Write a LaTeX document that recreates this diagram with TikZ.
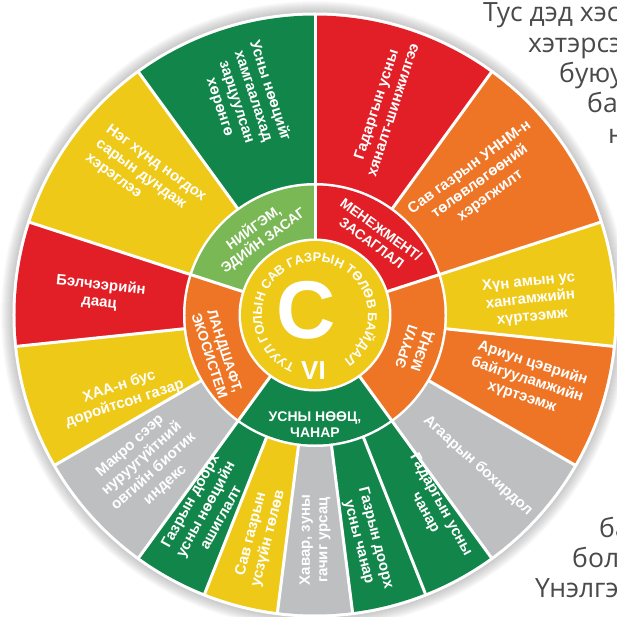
\documentclass[tikz,border=0pt]{standalone}
\usepackage{fontspec}
\setmainfont{Liberation Sans}
\newfontfamily\parafont{Open Sans}
\usetikzlibrary{decorations.text}
\definecolor{dkgreen}{HTML}{12864A}
\definecolor{wred}{HTML}{E21F26}
\definecolor{worange}{HTML}{EE7526}
\definecolor{wyellow}{HTML}{EFC918}
\definecolor{wgray}{HTML}{BDBFC1}
\definecolor{ltgreen}{HTML}{79B855}
\definecolor{paragray}{HTML}{4A4A4A}
\begin{document}
\begin{tikzpicture}[x=1pt,y=1pt,
  seglabel/.style={text=white, font=\bfseries\fontsize{15}{17.5}\selectfont, align=center, inner sep=0pt},
  ringlabel/.style={text=white, font=\bfseries\fontsize{14}{16}\selectfont, align=center, inner sep=0pt},
  paraline/.style={anchor=base west, text=paragray, font=\parafont\fontsize{26.5}{28}\selectfont, inner sep=0pt},
  sep/.style={white, line width=3pt}]
\useasboundingbox (-315,-301) rectangle (302,315);
\clip (-315,-301) rectangle (302,315);
% paragraph behind the wheel
\node[paraline] (p0) at (168,293) {Тус дэд хэсэ};
\node[paraline] (p1) at (213,262.7) {хэтэрсэн};
\node[paraline] (p2) at (244,232.4) {буюу};
\node[paraline] (p3) at (272,202) {ба};
\node[paraline] (p4) at (293,171.8) {н};
\node[paraline] (p17) at (284,-222) {ба};
\node[paraline] (p18) at (257,-252) {бол};
\node[paraline] (p19) at (220,-282.7) {Үнэлгэ};
% shadow
\foreach \i in {1,...,12} \fill[black,opacity=0.018] (0,0) circle ({302+\i});
\fill[white] (0,0) circle (302.5);
% outer sectors
\foreach \a/\b/\col in {90/54/wred, 54/18/worange, 18/-6/wyellow, -6/-30/worange, -30/-54/wgray,
  -54/-68.4/dkgreen, -68.4/-82.8/dkgreen, -82.8/-97.2/wgray, -97.2/-111.6/wyellow, -111.6/-126/dkgreen,
  -126/-150/wgray, -150/-174/wyellow, -174/-198/wred, -198/-234/wyellow, -234/-270/dkgreen}
  \fill[\col] (0,0) -- (\a:299.5) arc[start angle=\a, end angle=\b, radius=299.5] -- cycle;
\foreach \a in {90,54,18,-6,-30,-54,-68.4,-82.8,-97.2,-111.6,-126,-150,-174,-198,-234}
  \draw[sep] (\a:128) -- (\a:301);
\fill[white] (0,0) circle (132);
% ring sectors
\foreach \a/\b/\col in {90/18/wred, 18/-54/worange, -54/-126/dkgreen, -126/-198/worange, -198/-270/ltgreen}
  \fill[\col] (0,0) -- (\a:129.5) arc[start angle=\a, end angle=\b, radius=129.5] -- cycle;
\foreach \a in {90,18,-54,-126,-198}
  \draw[sep] (\a:70) -- (\a:131);
\fill[white] (0,0) circle (76.5);
\fill[wyellow] (0,0) circle (74);
% centre
\node[text=white, font=\bfseries\fontsize{82}{82}\selectfont, inner sep=0pt] (bigc) at (-9,5) {C};
\node[text=white, font=\bfseries\fontsize{26}{26}\selectfont, inner sep=0pt] (vi) at (-1.5,-56) {VI};
\path[decorate, decoration={text along path, text align=center, text color=white,
  text={|\bfseries\fontsize{12.8}{14}\selectfont|ТУУЛ ГОЛЫН САВ ГАЗРЫН ТӨЛӨВ БАЙДАЛ}}]
  (275.5:53) arc[start angle=275.5, end angle=-84.5, radius=53];
% ring labels
\node[ringlabel, rotate=-36] (r1) at (52:100) {МЕНЕЖМЕНТ/\\ЗАСАГЛАЛ};
\node[ringlabel, rotate=72] (r2) at (-19:106) {ЭРҮҮЛ\\МЭНД};
\node[ringlabel] (r3) at (-90:110) {УСНЫ НӨӨЦ,\\ЧАНАР};
\node[ringlabel, rotate=-72] (r4) at (201.5:105) {ЛАНДШАФТ,\\ЭКОСИСТЕМ};
\node[ringlabel, rotate=36] (r5) at (125:99) {НИЙГЭМ,\\ЭДИЙН ЗАСАГ};
% outer labels
\node[seglabel, rotate=72] (s1) at (71.6:219) {Гадаргын усны\\хяналт-шинжилгээ};
\node[seglabel, rotate=36] (s2) at (38.9:212) {Сав газрын УННМ-н\\төлөвлөгөөний\\хэрэгжилт};
\node[seglabel, rotate=6] (s3) at (4:216) {Хүн амын ус\\хангамжийн\\хүртээмж};
\node[seglabel, rotate=-18] (s4) at (-17:222) {Ариун цэврийн\\байгууламжийн\\хүртээмж};
\node[seglabel, rotate=-42] (s5) at (-42.8:222) {Агаарын бохирдол};
\node[seglabel, rotate=-61.2] (s6) at (-58.7:227) {Гадаргын усны\\чанар};
\node[seglabel, rotate=-75.6] (s7) at (-77:231) {Газрын доорх\\усны чанар};
\node[seglabel, rotate=90] (s8) at (-90:225) {Хавар, зуны\\гачиг урсац};
\node[seglabel, rotate=75.6] (s9) at (-104:228) {Сав газрын\\усзүйн төлөв};
\node[seglabel, rotate=61.2] (s10) at (-119.5:223) {Газрын доорх\\усны нөөцийн\\ашиглалт};
\node[seglabel, rotate=42] (s11) at (-138:225) {Макро сээр\\нуруугүйтний\\овгийн биотик\\индекс};
\node[seglabel, rotate=18] (s12) at (202.5:209) {ХАА-н бус\\доройтсон газар};
\node[seglabel, rotate=-6] (s13) at (174.4:216) {Бэлчээрийн\\даац};
\node[seglabel, rotate=-36, align=left] (s14) at (141:218) {Нэг хүнд ногдох\\сарын дундаж\\хэрэглээ};
\node[seglabel, rotate=-72] (s15) at (108:227) {Усны нөөцийг\\хамгаалахад\\зарцуулсан\\хөрөнгө};
\end{tikzpicture}
\end{document}
